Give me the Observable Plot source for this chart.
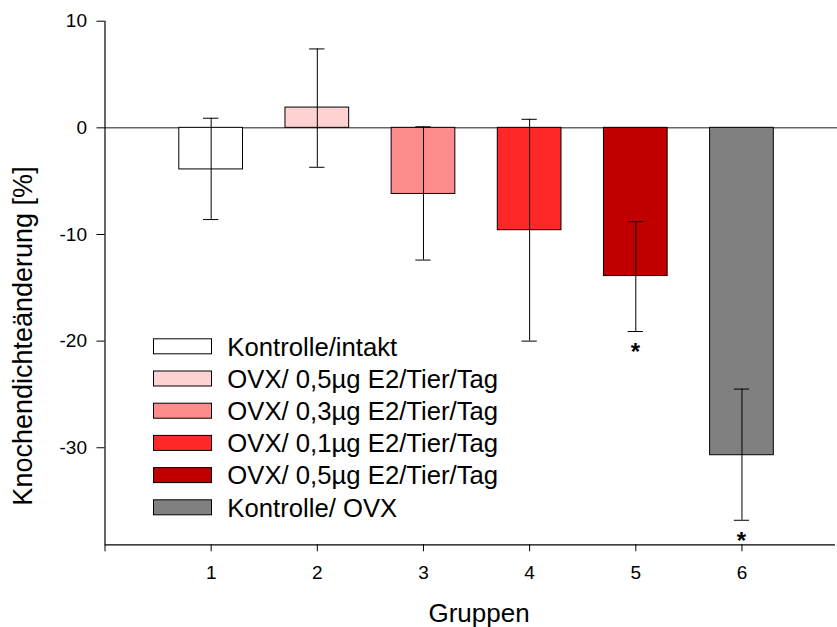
<!DOCTYPE html>
<html><head><meta charset="utf-8">
<script src="https://cdn.jsdelivr.net/npm/d3@7"></script>
<script src="https://cdn.jsdelivr.net/npm/@observablehq/plot@0.6"></script>
<style>
body{margin:0;background:#fff}
#chart{position:relative;width:837px;height:627px}
</style>
</head><body><div id="chart"></div>
<script>
const groups = [1, 2, 3, 4, 5, 6];
const labels = ["Kontrolle/intakt", "OVX/ 0,5µg E2/Tier/Tag", "OVX/ 0,3µg E2/Tier/Tag", "OVX/ 0,1µg E2/Tier/Tag", "OVX/ 0,5µg E2/Tier/Tag", "Kontrolle/ OVX"];
const means = [-3.9, 1.9, -6.2, -9.6, -13.9, -30.7];
const errLow = [-8.6, -3.7, -12.4, -20.0, -19.1, -36.8];
const errHigh = [0.9, 7.4, 0.1, 0.8, -8.8, -24.5];
const colors = ["#ffffff", "#ffd2d2", "#ff8c8c", "#ff2828", "#c00000", "#808080"];
const significant = [false, false, false, false, true, true];
const yTicks = [10, 0, -10, -20, -30];
const xTicks = [0, 1, 2, 3, 4, 5, 6];
const yDomain = [-39.1, 10];
const xDomain = [0, 6.9];

const data = groups.map((g, i) => ({g, label: labels[i], mean: means[i], lo: errLow[i], hi: errHigh[i], color: colors[i], sig: significant[i]}));
const FONT = "'Liberation Sans', Arial, sans-serif";
const barHalf = 0.3, capHalf = 0.072;

const plot = Plot.plot({
  width: 837, height: 627,
  marginLeft: 104.5, marginRight: 0, marginTop: 20.7, marginBottom: 82.7,
  style: {fontFamily: FONT, color: "black", background: "white", overflow: "visible"},
  x: {domain: xDomain, type: "linear"},
  y: {domain: yDomain},
  marks: [
    Plot.ruleY([0], {x1: xDomain[0], x2: xDomain[1], stroke: "#666", strokeWidth: 1.5}),
    Plot.rectY(data, {x1: d => d.g - barHalf, x2: d => d.g + barHalf, y1: 0, y2: "mean", fill: "color", stroke: "black", strokeWidth: 1}),
    Plot.ruleX(data, {x: "g", y1: "lo", y2: "hi", stroke: "black", strokeWidth: 1}),
    Plot.ruleY(data, {y: "lo", x1: d => d.g - capHalf, x2: d => d.g + capHalf, stroke: "black", strokeWidth: 1}),
    Plot.ruleY(data, {y: "hi", x1: d => d.g - capHalf, x2: d => d.g + capHalf, stroke: "black", strokeWidth: 1}),
    Plot.ruleX([xDomain[0]], {y1: yDomain[0], y2: yDomain[1], stroke: "black", strokeWidth: 1.2}),
    Plot.ruleY([yDomain[0]], {x1: xDomain[0], x2: 6.88, stroke: "black", strokeWidth: 1.2}),
    Plot.axisY({ticks: yTicks, tickSize: 8, tickPadding: 10, tickFormat: d => String(d), label: null}),
    Plot.axisX({ticks: xTicks, tickSize: 7, tickPadding: 14, tickFormat: d => d === 0 ? "" : String(d), label: null})
  ]
});
document.getElementById("chart").appendChild(plot);

const svg = d3.select(plot);
// enlarge tick labels (all texts drawn so far are tick labels)
svg.selectAll("text").style("font-size", "19px");

// significance stars, positioned through the plot's scales
const xs = plot.scale("x"), ys = plot.scale("y");
data.filter(d => d.sig).forEach(d => {
  svg.append("text").attr("x", xs.apply(d.g)).attr("y", ys.apply(d.lo - 1.4) + 14)
    .attr("text-anchor", "middle").attr("font-size", 24).attr("font-weight", "bold")
    .attr("font-family", FONT).attr("fill", "black").text("*");
});
// axis titles
svg.append("text").attr("x", 479).attr("y", 622).attr("text-anchor", "middle")
  .attr("font-size", 26).attr("font-family", FONT).attr("fill", "black").text("Gruppen");
svg.append("text").attr("transform", "translate(32,336) rotate(-90)").attr("text-anchor", "middle")
  .attr("font-size", 27).attr("font-family", FONT).attr("fill", "black").text("Knochendichteänderung [%]");
// legend
const lg = svg.append("g");
data.forEach((d, i) => {
  const cy = 346.3 + i * 32.2;
  lg.append("rect").attr("x", 153.5).attr("y", cy - 7.5).attr("width", 58).attr("height", 15)
    .attr("fill", d.color).attr("stroke", "black").attr("stroke-width", 1);
  lg.append("text").attr("x", 227.3).attr("y", cy + 9.2).attr("font-size", 25.7).attr("font-family", FONT)
    .attr("text-anchor", "start").attr("fill", "black").text(d.label);
});
</script></body></html>
